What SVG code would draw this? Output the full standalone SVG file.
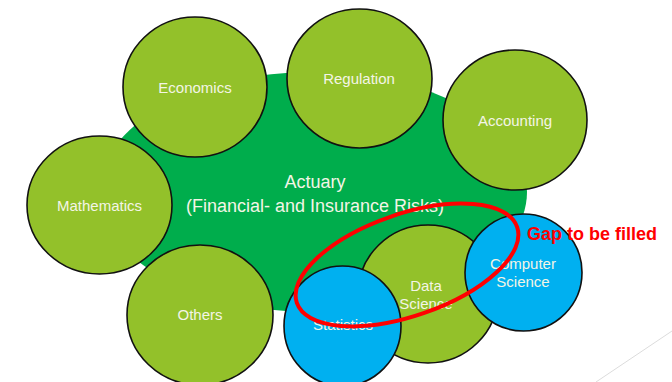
<svg xmlns="http://www.w3.org/2000/svg" width="672" height="382" viewBox="0 0 672 382">
  <style>
    .lg { fill: #93c12a; stroke: #111; stroke-width: 1.6; }
    .bl { fill: #00b0f0; stroke: #111; stroke-width: 1.6; }
    .lbl { font-family: "Liberation Sans", Arial, sans-serif; font-size: 15px; fill: #f3f5e6; text-anchor: middle; }
    .big { font-family: "Liberation Sans", Arial, sans-serif; font-size: 18px; fill: #f3f5e6; text-anchor: middle; }
  </style>
  <rect x="0" y="0" width="672" height="382" fill="#ffffff"/>
  <line x1="672" y1="331" x2="596" y2="382" stroke="#dcdcdc" stroke-width="1"/>

  <g id="actuary">
    <ellipse cx="313" cy="192" rx="214" ry="120" fill="#00ad4c"/>
    <text class="big" x="315" y="188">Actuary</text>
    <text class="big" x="315" y="212">(Financial- and Insurance Risks)</text>
  </g>

  <g id="economics">
    <ellipse class="lg" cx="195" cy="87" rx="72" ry="70"/>
    <text class="lbl" x="195" y="93">Economics</text>
  </g>
  <g id="regulation">
    <ellipse class="lg" cx="359.5" cy="78.5" rx="72.5" ry="69.5"/>
    <text class="lbl" x="359" y="84">Regulation</text>
  </g>
  <g id="accounting">
    <ellipse class="lg" cx="515" cy="120" rx="72" ry="70"/>
    <text class="lbl" x="515" y="126">Accounting</text>
  </g>
  <g id="mathematics">
    <ellipse class="lg" cx="99.5" cy="205" rx="72.5" ry="69"/>
    <text class="lbl" x="99.5" y="211">Mathematics</text>
  </g>
  <g id="others">
    <ellipse class="lg" cx="200" cy="315" rx="73" ry="70"/>
    <text class="lbl" x="200" y="320">Others</text>
  </g>
  <g id="data-science">
    <ellipse class="lg" cx="428" cy="294" rx="70" ry="69"/>
    <text class="lbl" x="426" y="291">Data</text>
    <text class="lbl" x="426" y="309">Science</text>
  </g>
  <g id="statistics">
    <ellipse class="bl" cx="342.5" cy="326" rx="58.5" ry="60"/>
    <text class="lbl" x="343" y="330">Statistics</text>
  </g>
  <g id="computer-science">
    <ellipse class="bl" cx="523.5" cy="272.5" rx="58.5" ry="58.5"/>
    <text class="lbl" x="523" y="269">Computer</text>
    <text class="lbl" x="523" y="287">Science</text>
  </g>

  <g id="connectors">
    <ellipse cx="407" cy="265" rx="116.5" ry="51" transform="rotate(-19 407 265)" fill="none" stroke="#ff0000" stroke-width="4"/>
  </g>

  <g id="gap-label">
    <text x="527" y="240" font-family="'Liberation Sans', Arial, sans-serif" font-size="18" font-weight="bold" fill="#ff0000" textLength="130">Gap to be filled</text>
  </g>
</svg>
